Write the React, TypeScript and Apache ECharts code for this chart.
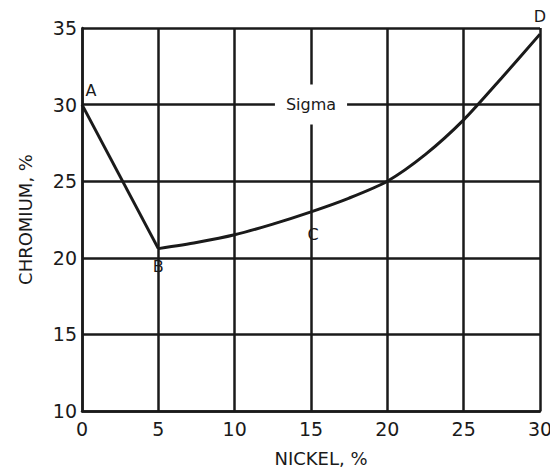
import React, { useEffect, useRef } from "react";
import * as echarts from "echarts";

const xTicks = [0, 5, 10, 15, 20, 25, 30];
const yTicks = [10, 15, 20, 25, 30, 35];
const segAB: [number, number][] = [[0, 30], [5, 20.6]];
const segBD: [number, number][] = [
  [5, 20.6], [7.5, 21.0], [10, 21.5], [12.5, 22.2], [15, 23.0], [17.5, 23.9],
  [20, 25.0], [22.5, 26.75], [25, 29.0], [27.5, 31.75], [30, 34.6],
];
const pointNames = ["A", "B", "C", "D"];
const pointCoords: [number, number][] = [[0, 30], [5, 20.6], [15, 23.0], [30, 34.6]];
const regionLabel = "Sigma";
const regionCoord: [number, number] = [15, 30];

const ink = "#1a1a1a";

export default function App() {
  const ref = useRef<HTMLDivElement>(null);
  useEffect(() => {
    if (!ref.current) return;
    const chart = echarts.init(ref.current, null, { renderer: "svg" });
    const font = "DejaVu Sans";
    const labelPos: any[] = [
      { position: "right", offset: [-2, -14] },
      { position: "bottom", offset: [0, 4] },
      { position: "bottom", offset: [2, 9] },
      { position: "top", offset: [0, -4] },
    ];
    chart.setOption({
      animation: false,
      backgroundColor: "#fff",
      grid: { left: 71, right: 18, top: 20, bottom: 56, containLabel: false },
      xAxis: {
        type: "value",
        min: xTicks[0],
        max: xTicks[xTicks.length - 1],
        interval: 5,
        name: "NICKEL, %",
        nameLocation: "middle",
        nameGap: 38,
        nameTextStyle: { fontFamily: font, fontSize: 18, color: ink, padding: [0, 0, 0, 20] },
        axisLine: { show: true, lineStyle: { color: ink, width: 2.5 } },
        axisTick: { show: false },
        splitLine: { show: true, lineStyle: { color: ink, width: 2.5 } },
        axisLabel: { fontFamily: font, fontSize: 19, color: ink, margin: 8 },
      },
      yAxis: {
        type: "value",
        min: yTicks[0],
        max: yTicks[yTicks.length - 1],
        interval: 5,
        name: "CHROMIUM, %",
        nameLocation: "middle",
        nameGap: 48,
        nameRotate: 90,
        nameTextStyle: { fontFamily: font, fontSize: 18, color: ink },
        axisLine: { show: true, lineStyle: { color: ink, width: 2.5 } },
        axisTick: { show: false },
        splitLine: { show: true, lineStyle: { color: ink, width: 2.5 } },
        axisLabel: { fontFamily: font, fontSize: 19, color: ink, margin: 5 },
      },
      series: [
        {
          type: "line",
          data: segAB,
          showSymbol: false,
          lineStyle: { color: ink, width: 3 },
          z: 3,
        },
        {
          type: "line",
          data: segBD,
          smooth: 0.25,
          showSymbol: false,
          lineStyle: { color: ink, width: 3 },
          z: 3,
        },
        {
          type: "scatter",
          symbolSize: 1,
          itemStyle: { color: "rgba(0,0,0,0)", opacity: 1 },
          z: 5,
          data: pointCoords.map((c, i) => ({
            value: c,
            name: pointNames[i],
            label: {
              show: true,
              formatter: pointNames[i],
              fontFamily: font,
              fontSize: 16,
              color: ink,
              opacity: 1,
              ...labelPos[i],
            },
          })),
        },
        {
          type: "scatter",
          symbolSize: 1,
          itemStyle: { color: "rgba(0,0,0,0)", opacity: 1 },
          z: 5,
          data: [
            {
              value: regionCoord,
              label: {
                show: true,
                position: "inside",
                formatter: regionLabel,
                fontFamily: font,
                fontSize: 16,
                color: ink,
                opacity: 1,
                backgroundColor: "#fff",
                padding: [12, 11, 12, 11],
              },
            },
          ],
        },
      ],
    });
    return () => chart.dispose();
  }, []);
  return <div ref={ref} style={{ width: 550, height: 464 }} />;
}
